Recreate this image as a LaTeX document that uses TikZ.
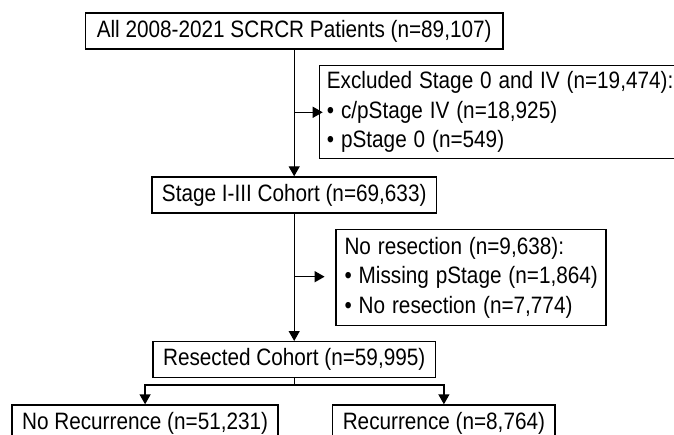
\documentclass[tikz,border=0pt]{standalone}
\usepackage{graphicx}
\usepackage{fontspec}
\setmainfont{Liberation Sans}
\usetikzlibrary{arrows.meta}
\newcommand{\narrow}[1]{\scalebox{0.875}[1]{#1}}
\tikzset{box/.style = {shape=rectangle,draw,line width=1.4pt,inner xsep=10pt,inner ysep=0pt,minimum height=36pt,font=\fontsize{23.7}{29.5}\selectfont}}
\tikzset{listbox/.style = {box,align=left,anchor=north west}}
\tikzset{edge/.style = {-{Triangle[length=10pt,width=11pt]},line width=1.4pt}}

\begin{document}
\begin{tikzpicture}[x=1pt,y=-1pt]
        \useasboundingbox (0,0) rectangle (674,435);
        \clip (0,0) rectangle (674,435);
        \node[box,minimum width=417.5pt] (all) at (294.2,30.9) {\narrow{All 2008-2021 SCRCR Patients (n=89,107)}};
        \node[box,minimum width=284.6pt] (stage) at (294.2,195) {\narrow{Stage I-III Cohort (n=69,633)}};
        \draw[edge] (all) -- (stage);
        % excluded patients
        \node[listbox,inner xsep=7.5pt,text width=356pt,minimum height=93pt] (excl) at (318.7,65) {\narrow{Excluded Stage 0 and IV (n=19,474):}\\\narrow{\textbullet\ c/pStage IV (n=18,925)}\\\narrow{\textbullet\ pStage 0 (n=549)}};
        \coordinate (cut1) at (294.2,112.3);
        \draw[edge,shorten >=-4pt] (cut1) -- (cut1 -| excl.west);
        \node[box,minimum width=276.4pt] (resect) at (294.2,359.7) {\narrow{Resected Cohort (n=59,995)}};
        \draw[edge] (stage) -- (resect);
        % not resected
        \node[listbox,inner xsep=8.5pt,text width=253pt,minimum height=96pt] (nores) at (335.3,229) {\narrow{No resection (n=9,638):}\\\narrow{\textbullet\ Missing pStage (n=1,864)}\\\narrow{\textbullet\ No resection (n=7,774)}};
        \coordinate (cut2) at (294.2,276.7);
        \draw[edge,shorten >=10.7pt] (cut2) -- (cut2 -| nores.west);
        % split by recurrence
        \coordinate (fork) at (294.2,385);
        \draw[line width=1.4pt] (resect) -- (fork);
        \node[box,minimum width=264.4pt] (norec) at (145.1,423) {\narrow{No Recurrence (n=51,231)}};
        \draw[edge] (fork) -| (norec);
        \node[box,minimum width=218.8pt] (rec) at (443.9,423) {\narrow{Recurrence (n=8,764)}};
        \draw[edge] (fork) -| (rec);
\end{tikzpicture}
\end{document}
